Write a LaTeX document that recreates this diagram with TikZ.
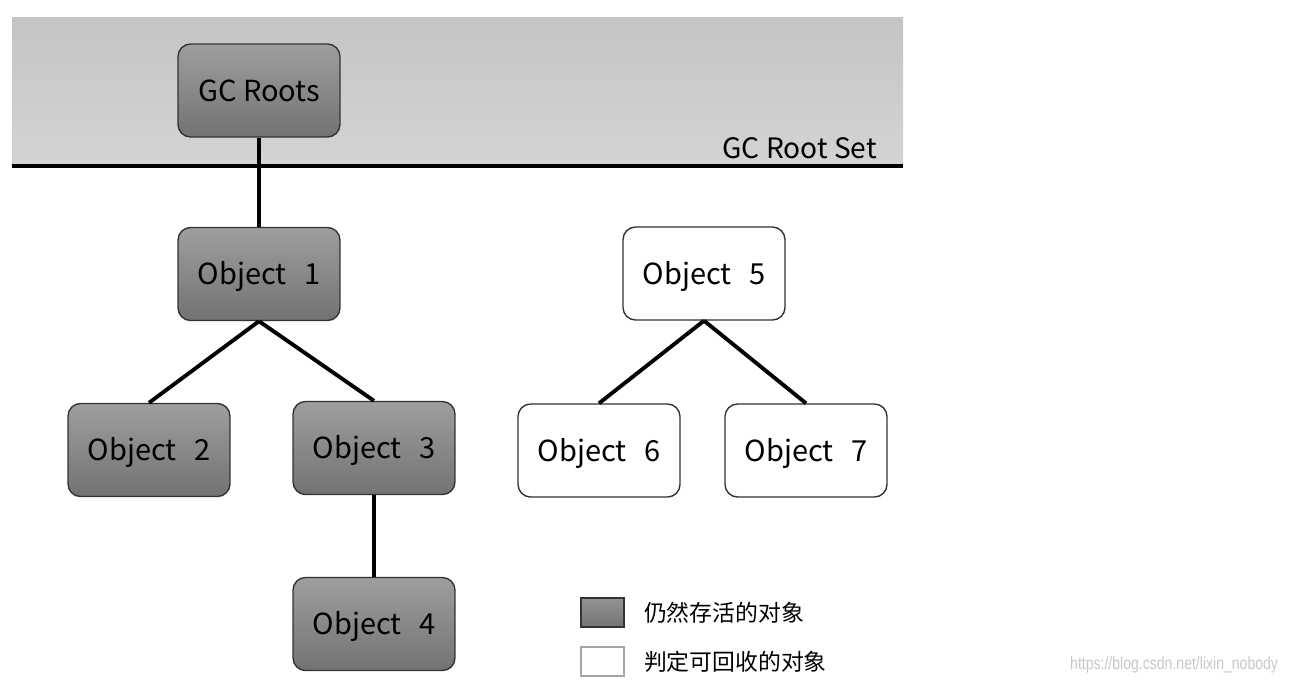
\documentclass[tikz,border=0pt]{standalone}
\usepackage{fontspec}
\setmainfont{Noto Sans CJK SC}
\newfontfamily\markfont{Liberation Sans}
\usetikzlibrary{positioning}

% Nhãn đối tượng
\newcommand{\objlabel}[1]{Object\hspace{0.6em}#1}

\tikzset{
    objbox/.style={draw=black!80, line width=0.8pt, rounded corners=0.25cm,
        minimum width=3.24cm, minimum height=1.86cm, text height=12pt, text depth=0pt,
        font=\fontsize{16.5}{18}\selectfont},
    alivebox/.style={objbox, top color=black!38, bottom color=black!55},
    deadbox/.style={objbox, fill=white},
    link/.style={line width=2.2pt},
    keybox/.style={draw=black!80, line width=0.8pt, minimum width=0.86cm,
        minimum height=0.58cm, inner sep=0pt},
    keytext/.style={anchor=west, inner sep=0pt, font=\fontsize{13}{15}\selectfont}
}

\begin{document}
\begin{tikzpicture}[x=0.02cm, y=-0.02cm]
        \useasboundingbox (0,0) rectangle (1292,683);

        % Vùng GC Root Set
        \shade[top color=black!23, bottom color=black!17] (12,17) rectangle (903,166);
        \draw[line width=2.3pt] (12,166) -- (903,166);
        \node[font=\fontsize{16}{18}\selectfont, anchor=base east, inner sep=0pt] (rootset) at (877,158) {GC Root Set};

        % Các đối tượng còn sống
        \node[alivebox] (roots) at (259,90.5) {GC Roots};
        \node[alivebox] (obj1) at (259,274) {\objlabel{1}};
        \node[alivebox] (obj2) at (149,450) {\objlabel{2}};
        \node[alivebox] (obj3) at (374,448) {\objlabel{3}};
        \node[alivebox] (obj4) at (374,624) {\objlabel{4}};

        % Các đối tượng có thể thu hồi
        \node[deadbox] (obj5) at (704,273.5) {\objlabel{5}};
        \node[deadbox] (obj6) at (599,450.5) {\objlabel{6}};
        \node[deadbox] (obj7) at (806,450.5) {\objlabel{7}};

        % Tham chiếu
        \draw[link] (roots) -- (obj1);
        \draw[link] (obj1.south) -- (obj2.north);
        \draw[link] (obj1.south) -- (obj3.north);
        \draw[link] (obj3) -- (obj4);
        \draw[link] (obj5.south) -- (obj6.north);
        \draw[link] (obj5.south) -- (obj7.north);

        % Chú thích
        \node[keybox, top color=black!42, bottom color=black!55] (keyalive) at (602.5,612.5) {};
        \node[keytext, right=0.38cm of keyalive] (alivetext) {仍然存活的对象};
        \node[keybox, draw=black!35, fill=white] (keydead) at (602.5,661.5) {};
        \node[keytext, right=0.38cm of keydead] (deadtext) {判定可回收的对象};

        % Watermark
        \node[font=\markfont\fontsize{10}{12}\selectfont, text=black!22, anchor=east, xscale=0.8] (mark) at (1283,665) {https://blog.csdn.net/lixin\_nobody};
\end{tikzpicture}
\end{document}
